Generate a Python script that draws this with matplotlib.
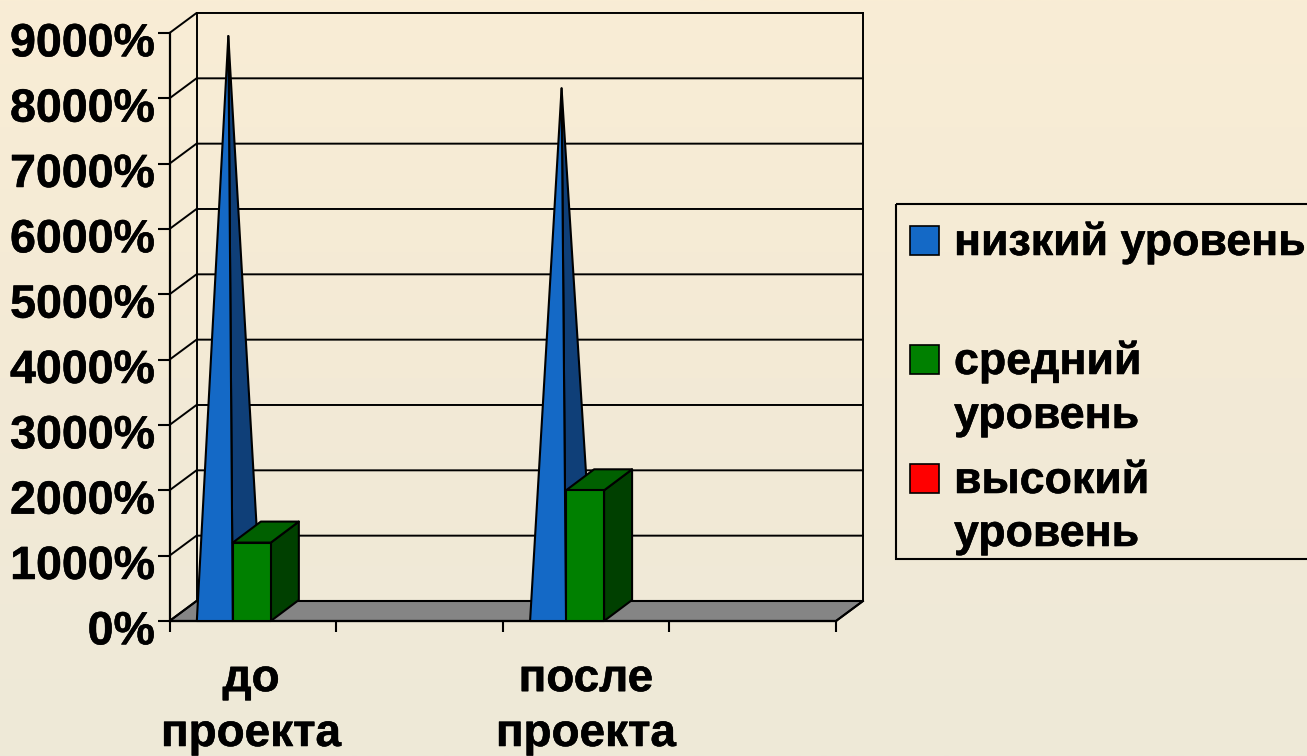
import numpy as np
import matplotlib
matplotlib.use("Agg")
import matplotlib.pyplot as plt
import matplotlib.patheffects as pe
from matplotlib.colors import LinearSegmentedColormap
from matplotlib.patches import Polygon, Rectangle
from matplotlib.transforms import ScaledTranslation

categories = ["до\nпроекта", "после\nпроекта"]
series_names = ["низкий уровень", "средний\nуровень", "высокий\nуровень"]
low = [8800, 8000]
mid = [1200, 2000]
high = [0, 0]
y_ticks = [0, 1000, 2000, 3000, 4000, 5000, 6000, 7000, 8000, 9000]

W, H = 1307, 756
FONT = "Liberation Sans"
BLUE, BLUE_SIDE = "#1469c6", "#0f3f78"
GREEN, GREEN_TOP, GREEN_SIDE = "#008000", "#006000", "#004000"
RED = "#ff0000"

# depth of the fake 3d box, in data units
DX = 27 / 333
DY = 20 / 65.3 * 1000
# bars look a touch deeper than the box
BAR_DX = 28 / 333
BAR_DY = 21 / 65.3 * 1000
BAR_W = 0.108
OFFSET = 0.082
HEAVY = [pe.withStroke(linewidth=0.4, foreground="black")]

fig = plt.figure(figsize=(W / 100, H / 100), dpi=100)

bg = fig.add_axes([0, 0, 1, 1], zorder=-1)
cmap = LinearSegmentedColormap.from_list("bg", ["#f9edd5", "#f3ead6", "#eee9d8"])
bg.imshow(np.linspace(0, 1, 256).reshape(-1, 1), aspect="auto", cmap=cmap)
bg.axis("off")

ax = fig.add_axes([169.5 / W, (H - 621) / H, 666.5 / W, 588 / H])
ax.set_xlim(0, 2)
ax.set_ylim(0, 9000)
ax.patch.set_alpha(0)
ax.spines[["top", "right"]].set_visible(False)
ax.spines[["left", "bottom"]].set_linewidth(1.6)


def poly(points, color, z):
    ax.add_patch(Polygon(points, closed=True, facecolor=color, edgecolor="black",
                         linewidth=1.5, zorder=z, clip_on=False, joinstyle="round"))


# floor and walls
poly([(0, 0), (2, 0), (2 + DX, DY), (DX, DY)], "#858585", 1)
for y in y_ticks:
    ax.plot([0, DX, 2 + DX], [y, y + DY, y + DY], color="black", lw=1.4, zorder=1.5, clip_on=False)
ax.plot([DX, DX], [DY, 9000 + DY], color="black", lw=1.4, zorder=1.5, clip_on=False)
ax.plot([2 + DX, 2 + DX], [DY, 9000 + DY], color="black", lw=1.4, zorder=1.5, clip_on=False)
ax.plot([2, 2 + DX], [0, DY], color="black", lw=1.4, zorder=2, clip_on=False)

for i in range(len(categories)):
    # low level is a pyramid
    x0 = i + OFFSET
    x1 = x0 + BAR_W
    apex = (x0 + BAR_W / 2 + DX / 2, low[i] + DY / 2)
    poly([(x1, 0), (x1 + BAR_DX, BAR_DY), apex], BLUE_SIDE, 3)
    poly([(x0, 0), (x1, 0), apex], BLUE, 4)

    # mid level is a box
    x2 = x1 + BAR_W + 0.006
    h = mid[i]
    poly([(x2, 0), (x2 + BAR_DX, BAR_DY), (x2 + BAR_DX, h + BAR_DY), (x2, h)], GREEN_SIDE, 5)
    poly([(x1, h), (x2, h), (x2 + BAR_DX, h + BAR_DY), (x1 + BAR_DX, h + BAR_DY)], GREEN_TOP, 5)
    poly([(x1, 0), (x2, 0), (x2, h), (x1, h)], GREEN, 6)

ax.set_yticks(y_ticks)
ax.set_yticklabels([f"{v}%" for v in y_ticks], fontfamily=FONT, fontweight="bold", fontsize=33.5)
ax.tick_params(axis="y", length=8.5, width=1.5, pad=2)
shift = ScaledTranslation(0, -6.3 / 100, fig.dpi_scale_trans)
for label in ax.get_yticklabels():
    label.set_transform(label.get_transform() + shift)
    label.set_path_effects(HEAVY)

ax.set_xticks([0, 0.5, 1, 1.5, 2])
ax.set_xticklabels([])
ax.tick_params(axis="x", which="major", length=8, width=1.5)
ax.set_xticks([0.245, 1.25], minor=True)
ax.set_xticklabels(categories, minor=True, fontfamily=FONT, fontweight="bold", fontsize=33, linespacing=1.32)
ax.tick_params(axis="x", which="minor", length=0, pad=26)
for label in ax.get_xticklabels(minor=True):
    label.set_path_effects(HEAVY)

# legend is laid out by hand, wrapping in the original is uneven
leg = fig.add_axes([0, 0, 1, 1], zorder=5)
leg.set_xlim(0, W)
leg.set_ylim(H, 0)
leg.axis("off")
leg.add_patch(Rectangle((895.5, 204), 450, 355, fill=False, edgecolor="black", linewidth=1.5))
baselines = [255, 374, 493]
line_gap = [0, 54, 53]
for name, color, base, gap in zip(series_names, [BLUE, GREEN, RED], baselines, line_gap):
    leg.add_patch(Rectangle((909.5, base - 29), 29, 29, facecolor=color, edgecolor="black", linewidth=1.2))
    for j, line in enumerate(name.split("\n")):
        leg.text(954, base + j * gap, line, fontfamily=FONT, fontweight="bold", fontsize=32.2,
                 va="baseline", ha="left", clip_on=True, path_effects=HEAVY)

fig.savefig("out.png", dpi=100)
